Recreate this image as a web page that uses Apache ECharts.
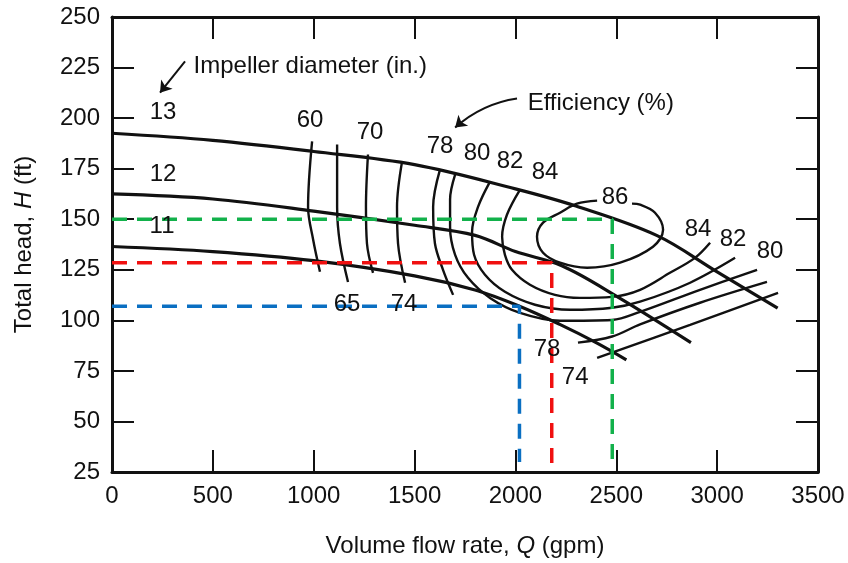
<!DOCTYPE html>
<html>
<head>
<meta charset="utf-8">
<style>
  html, body { margin: 0; padding: 0; background: #fff; }
  #chart { width: 848px; height: 563px; }
</style>
<script src="https://cdn.jsdelivr.net/npm/echarts@6/dist/echarts.min.js"></script>
</head>
<body>
<div id="chart"></div>
<script>
var FONT = "'Liberation Sans', Arial, sans-serif";
var INK = '#111';

// impeller curves, [Q gpm, H ft]
var impeller13 = [[0, 192.5], [500, 189], [1000, 183.5], [1500, 177], [2000, 165], [2300, 156.5], [2700, 142], [3000, 124], [3300, 106]];
var impeller12 = [[0, 162.5], [500, 160], [1000, 154], [1500, 147], [1800, 142], [2000, 134], [2230, 127], [2500, 112], [2870, 89]];
var impeller11 = [[0, 136.5], [500, 134], [1000, 129.5], [1500, 122], [1800, 115], [2020, 107], [2220, 98], [2400, 89], [2550, 80.5]];

// efficiency contours
var eff60 = [[992, 188.5], [972, 156], [997, 140], [1031, 124]];
var eff65 = [[1116, 187], [1116, 156], [1130, 138], [1170, 119]];
var eff70 = [[1269, 182], [1259, 156], [1264, 138], [1294, 123.5]];
var eff74a = [[1438, 178.5], [1413, 156], [1418, 138], [1453, 118.6]];
var eff74b = [[2405, 81.4], [2866, 97.8], [3302, 113.6]];
var eff78a = [[1626, 174.5], [1592, 156], [1601, 138], [1641, 125], [1691, 112.6]];
var eff78b = [[2310, 89], [2479, 92], [2618, 98], [2915, 108.7], [3247, 119]];
var eff80 = [[1701, 172], [1676, 159.7], [1676, 146.3], [1701, 132.4], [1765, 121], [1874, 111.1], [2023, 103.7], [2221, 99.8], [2479, 100.2], [2618, 104.2], [2915, 115.1], [3198, 125]];
var eff82 = [[1874, 168.6], [1815, 156.2], [1785, 143.8], [1795, 132.4], [1849, 122.5], [1948, 114.1], [2097, 107.7], [2271, 105.2], [2479, 106.2], [2618, 109.2], [2866, 118.6], [3089, 130.9]];
var eff84 = [[2023, 164.6], [1958, 152.2], [1934, 141.3], [1948, 132.4], [1983, 125], [2072, 117.6], [2196, 112.6], [2320, 111.1], [2479, 111.6], [2618, 115.1], [2766, 123.5], [2890, 130.9], [2965, 138.4]];
var eff86 = [[2405, 159.2], [2305, 157.7], [2221, 153.2], [2137, 148.3], [2107, 141.3], [2137, 133.4], [2221, 128.5], [2355, 126], [2519, 128.5], [2682, 136.4], [2732, 144.8], [2692, 153.2], [2618, 157.2], [2578, 157.7]];

// operating points (dashed)
var pointBlue = [[0, 107], [2020, 107], [2020, 30]];
var pointRed = [[0, 128.5], [2180, 128.5], [2180, 25]];
var pointGreen = [[0, 150], [2480, 150], [2480, 30]];

// text on the plot
var curveLabels = [
  [253, 202.7, '13'], [253, 172, '12'], [248, 146.3, '11'],
  [982, 198.8, '60'], [1279, 192.8, '70'], [1626, 185.9, '78'], [1810, 182.4, '80'],
  [1973, 178.5, '82'], [2147, 173, '84'], [2494, 160.6, '86'],
  [2905, 144.8, '84'], [3079, 139.9, '82'], [3262, 133.9, '80'],
  [1165, 107.7, '65'], [1448, 107.7, '74'], [2157, 85.4, '78'], [2296, 72, '74']
];
var noteLabels = [[402, 225.5, 'Impeller diameter (in.)'], [2058, 207.2, 'Efficiency (%)']];
var impellerArrow = [[362, 228], [238, 212.6]];
var efficiencyArrow = [[2008, 209.7], [1701, 195.3]];

function curve(data, width) {
  return {
    type: 'line',
    data: data,
    smooth: 0.35,
    symbol: 'none',
    silent: true,
    z: 2,
    lineStyle: { color: INK, width: width }
  };
}

function dashed(data, color) {
  return {
    type: 'line',
    data: data,
    symbol: 'none',
    silent: true,
    z: 3,
    lineStyle: { color: color, width: 3.5, type: [15, 10] }
  };
}

function textSeries(data, position) {
  return {
    type: 'scatter',
    data: data,
    symbolSize: 1,
    silent: true,
    z: 5,
    itemStyle: { color: 'rgba(0,0,0,0)', opacity: 1 },
    label: {
      show: true, position: position, distance: 0, color: INK, opacity: 1,
      fontSize: 24, fontFamily: FONT, textBorderWidth: 0,
      formatter: function (p) { return p.data[2]; }
    }
  };
}

function arrowSeries(pts, bend) {
  return {
    type: 'lines',
    coordinateSystem: 'cartesian2d',
    silent: true,
    z: 4,
    symbol: ['none', 'arrow'],
    symbolSize: 11,
    itemStyle: { color: INK },
    lineStyle: { color: INK, width: 2, opacity: 1, curveness: bend },
    data: [{ coords: pts }]
  };
}

var chart = echarts.init(document.getElementById('chart'));

var axisText = { color: INK, fontSize: 24, fontFamily: FONT, margin: 12, formatter: function (v) { return String(v); } };
var tick = { inside: true, length: 22, lineStyle: { color: INK, width: 2 } };
var line = { show: true, onZero: false, lineStyle: { color: INK, width: 3 } };
var nameRich = {
  n: { fontSize: 24, fontFamily: FONT, color: INK },
  i: { fontSize: 24, fontFamily: FONT, color: INK, fontStyle: 'italic' }
};

var option = {
  animation: false,
  backgroundColor: '#fff',
  grid: { left: 112, right: 30, top: 17, bottom: 91, outerBoundsMode: 'none' },
  xAxis: [
    {
      type: 'value', min: 0, max: 3500, interval: 500, position: 'bottom',
      axisLine: line, axisTick: tick, splitLine: { show: false },
      axisLabel: axisText,
      name: '{n|Volume flow rate, }{i|Q}{n| (gpm)}',
      nameLocation: 'middle', nameGap: 62,
      nameTextStyle: { rich: nameRich }
    },
    {
      type: 'value', min: 0, max: 3500, interval: 500, position: 'top',
      axisLine: line, axisTick: tick, splitLine: { show: false },
      axisLabel: { show: false }
    }
  ],
  yAxis: [
    {
      type: 'value', min: 25, max: 250, interval: 25, position: 'left',
      axisLine: line, axisTick: tick, splitLine: { show: false },
      axisLabel: axisText,
      name: '{n|Total head, }{i|H}{n| (ft)}',
      nameLocation: 'middle', nameGap: 76,
      nameTextStyle: { rich: nameRich }
    },
    {
      type: 'value', min: 25, max: 250, interval: 25, position: 'right',
      axisLine: line, axisTick: tick, splitLine: { show: false },
      axisLabel: { show: false }
    }
  ],
  series: [
    curve(impeller13, 3.2), curve(impeller12, 3.2), curve(impeller11, 3.2),
    curve(eff60, 2.4), curve(eff65, 2.4), curve(eff70, 2.4),
    curve(eff74a, 2.4), curve(eff74b, 2.4), curve(eff78a, 2.4), curve(eff78b, 2.4),
    curve(eff80, 2.4), curve(eff82, 2.4), curve(eff84, 2.4), curve(eff86, 2.4),
    dashed(pointGreen, '#12b14b'), dashed(pointRed, '#f01010'), dashed(pointBlue, '#0a6fc2'),
    textSeries(curveLabels, 'inside'),
    textSeries(noteLabels, 'right'),
    arrowSeries(impellerArrow, 0),
    arrowSeries(efficiencyArrow, -0.15)
  ]
};

chart.setOption(option);
</script>
</body>
</html>
